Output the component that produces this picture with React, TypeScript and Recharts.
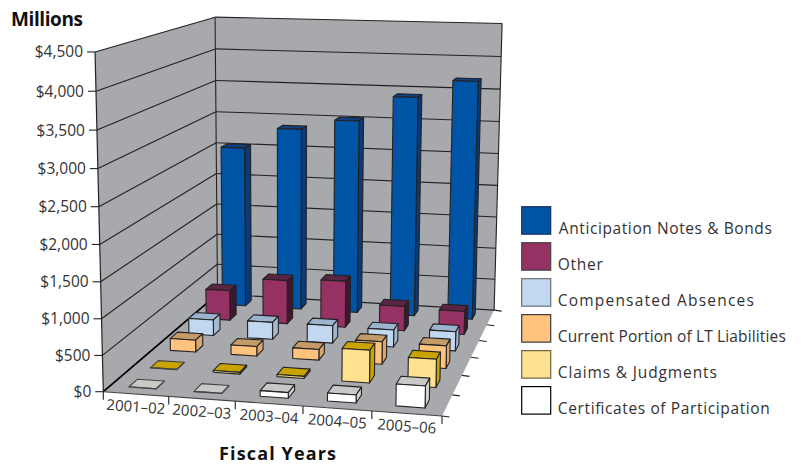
import React from "react";
import { BarChart, Bar, XAxis, YAxis, Legend, Customized } from "recharts";

const WIDTH = 804;
const HEIGHT = 465;

// Chart data, in $ millions
const years = ["2001–02", "2002–03", "2003–04", "2004–05", "2005–06"];
const anticipationNotes = [2535, 2862, 3023, 3414, 3684];
const other = [467, 677, 716, 379, 356];
const compensatedAbsences = [240, 258, 264, 256, 286];
const currentPortion = [177, 140, 156, 327, 327];
const claimsJudgments = [6, 25, 30, 459, 393];
const certificates = [3, 3, 77, 109, 295];
const valueTicks = [0, 500, 1000, 1500, 2000, 2500, 3000, 3500, 4000, 4500];
const MAX_VALUE = 4500;

// Series run from the back wall to the front of the floor
const seriesNames = [
  "Anticipation Notes & Bonds",
  "Other",
  "Compensated Absences",
  "Current Portion of LT Liabilities",
  "Claims & Judgments",
  "Certificates of Participation",
];
const seriesValues = [
  anticipationNotes,
  other,
  compensatedAbsences,
  currentPortion,
  claimsJudgments,
  certificates,
];
const frontColors = ["#0054A6", "#953163", "#C2D8F0", "#FFC27F", "#FFE18F", "#FFFFFF"];
const topColors = ["#10407F", "#5C2444", "#9DB4CF", "#C49A68", "#C9A400", "#C8C8C6"];
const sideColors = ["#0B3A78", "#401630", "#A3B7CE", "#D9A670", "#C9A400", "#D4D4D4"];
const legendStrokes = ["#1A3560", "#444444", "#6A6F75", "#3A3A3A", "#6B6440", "#000000"];
const legendWidths = [213, 45, 196, 228, 159, 212];

const tableRows = years.map((year, i) => {
  const row: Record<string, string | number> = { year };
  seriesNames.forEach((name, s) => {
    row[name] = seriesValues[s][i];
  });
  return row;
});

// Projective camera: u runs along the years, d into the depth, h up the value axis (all 0..1)
const O = [103.3, 391.7];
const A = [319.9, 6.6];
const B = [164.8, -29.3];
const C = [-12.4, -342];
const wa = -0.0425;
const wb = 0.2325;
const wc = -0.0436;

function project(u: number, d: number, h: number): [number, number] {
  const w = 1 + wa * u + wb * d + wc * h;
  return [
    (A[0] * u + B[0] * d + C[0] * h + O[0]) / w,
    (A[1] * u + B[1] * d + C[1] * h + O[1]) / w,
  ];
}

const pts = (list: [number, number][]) => list.map((p) => p.map((n) => n.toFixed(2)).join(",")).join(" ");

const BAR_HALF_WIDTH = 0.042;
const BAR_HALF_DEPTH = 0.0325;
const depthOf = (seriesIndex: number) => (5.5 - seriesIndex) / 6;

const WALL = "#A8A9AD";
const FONT = "'Open Sans', Lato, sans-serif";
const TEXT = "#333333";

// Walls, floor, gridlines and static titles
function Room() {
  const line = (a: [number, number], b: [number, number], key: string, width = 1.1, color = "#222") => (
    <line key={key} x1={a[0]} y1={a[1]} x2={b[0]} y2={b[1]} stroke={color} strokeWidth={width} />
  );
  return (
    <g>
      <polygon points={pts([project(0, 0, 0), project(0, 1, 0), project(0, 1, 1), project(0, 0, 1)])} fill={WALL} />
      <polygon points={pts([project(0, 1, 0), project(1, 1, 0), project(1, 1, 1), project(0, 1, 1)])} fill={WALL} />
      <polygon points={pts([project(0, 0, 0), project(1, 0, 0), project(1, 1, 0), project(0, 1, 0)])} fill={WALL} />
      {valueTicks.map((v) => {
        const h = v / MAX_VALUE;
        return (
          <g key={v}>
            {line(project(0, 0, h), project(0, 1, h), `l${v}`)}
            {line(project(0, 1, h), project(1, 1, h), `b${v}`)}
          </g>
        );
      })}
      {line(project(0, 0, 0), project(0, 0, 1), "front-edge", 1.2)}
      {line(project(0, 1, 0), project(0, 1, 1), "corner", 1.1)}
      {line(project(1, 1, 0), project(1, 1, 1), "right-edge", 1.1)}
      {line(project(0, 0, 0), project(0, 1, 0), "floor-left", 1.6, "#000")}
      {line(project(0, 0, 0), project(1, 0, 0), "floor-front", 1.1, "#444")}
      {[0, 1, 2, 3, 4, 5].map((i) => {
        const a = project(i / 5, 0, 0);
        return line(a, [a[0], a[1] + 8], `xt${i}`, 1.1);
      })}
      {[0, 1, 2, 3, 4, 5, 6].map((j) => {
        const a = project(1, j / 6, 0);
        return line(a, [a[0] + 7.5, a[1] + 1], `dt${j}`, 1.1);
      })}
      <text x={11} y={26} fontFamily={FONT} fontWeight={700} fontSize={19} fill="#111" textLength={72}>
        Millions
      </text>
      <text x={219} y={460} fontFamily={FONT} fontWeight={700} fontSize={18} fill="#111" textLength={117}>
        Fiscal Years
      </text>
    </g>
  );
}

// Draws one column as a box standing on the floor, its height taken from the value scale
function makeBox(seriesIndex: number) {
  return function Box(props: any) {
    const { index, height, background } = props;
    const plotHeight = background?.height ?? 1;
    const h = Math.max(0, (height ?? 0) / plotHeight);
    const u = (index + 0.5) / 5;
    const d = depthOf(seriesIndex);
    const u0 = u - BAR_HALF_WIDTH;
    const u1 = u + BAR_HALF_WIDTH;
    const d0 = d - BAR_HALF_DEPTH;
    const d1 = d + BAR_HALF_DEPTH;
    const flat = h < 0.003;
    const stroke = flat ? "#444" : "#222";
    return (
      <g stroke={stroke} strokeWidth={1.1} strokeLinejoin="round">
        <polygon points={pts([project(u0, d0, h), project(u1, d0, h), project(u1, d1, h), project(u0, d1, h)])} fill={topColors[seriesIndex]} />
        <polygon points={pts([project(u1, d0, 0), project(u1, d1, 0), project(u1, d1, h), project(u1, d0, h)])} fill={sideColors[seriesIndex]} />
        <polygon points={pts([project(u0, d0, 0), project(u1, d0, 0), project(u1, d0, h), project(u0, d0, h)])} fill={frontColors[seriesIndex]} />
      </g>
    );
  };
}

function ValueTick(props: any) {
  const v = props.payload.value as number;
  const [x, y] = project(0, 0, v / MAX_VALUE);
  return (
    <g>
      <line x1={x - 8} y1={y} x2={x} y2={y} stroke="#222" strokeWidth={1.1} />
      <text x={x - 12} y={y + 5.5} textAnchor="end" fontFamily={FONT} fontSize={15.5} fill={TEXT}>
        {`$${v.toLocaleString("en-US")}`}
      </text>
    </g>
  );
}

function YearTick(props: any) {
  const i = props.index as number;
  const [x, y] = project((i + 0.5) / 5, 0, 0);
  return (
    <text
      x={x}
      y={y + 18}
      textAnchor="middle"
      transform={`rotate(4.2 ${x} ${y + 13})`}
      fontFamily={FONT}
      fontSize={15}
      fill={TEXT}
      textLength={59}
    >
      {props.payload.value}
    </text>
  );
}

function LegendBlock(props: any) {
  const items = props.payload ?? [];
  return (
    <svg width={WIDTH} height={HEIGHT} style={{ position: "absolute", left: 0, top: 0 }}>
      {items.map((item: any, s: number) => {
        const top = 206.7 + s * 35.98;
        return (
          <g key={item.value}>
            <rect x={521.7} y={top} width={29} height={27.5} fill={item.color} stroke={legendStrokes[s]} strokeWidth={1.2} />
            <text x={s === 0 ? 558.8 : 557.8} y={top + 27} fontFamily={FONT} fontSize={15.5} fill={TEXT} textLength={legendWidths[s]}>
              {item.value}
            </text>
          </g>
        );
      })}
    </svg>
  );
}

export default function App() {
  return (
    <div style={{ position: "absolute", left: 0, top: 0, width: WIDTH, height: HEIGHT, overflow: "hidden" }}>
      <BarChart
        width={WIDTH}
        height={HEIGHT}
        data={tableRows}
        margin={{ top: 10, right: 10, bottom: 10, left: 10 }}
        style={{ background: "#fff" }}
      >
        <Customized component={Room} />
        <XAxis dataKey="year" interval={0} axisLine={false} tickLine={false} height={30} tick={YearTick} />
        <YAxis
          domain={[0, MAX_VALUE]}
          ticks={valueTicks}
          interval={0}
          axisLine={false}
          tickLine={false}
          width={40}
          tick={ValueTick}
        />
        <Legend
          layout="vertical"
          align="center"
          verticalAlign="middle"
          itemSorter={null}
          content={LegendBlock}
          wrapperStyle={{ position: "absolute", left: 0, top: 0, width: WIDTH, height: HEIGHT, pointerEvents: "none" }}
        />
        {seriesNames.map((name, s) => (
          <Bar
            key={name}
            dataKey={name}
            name={name}
            fill={frontColors[s]}
            isAnimationActive={false}
            shape={makeBox(s)}
          />
        ))}
      </BarChart>
    </div>
  );
}
